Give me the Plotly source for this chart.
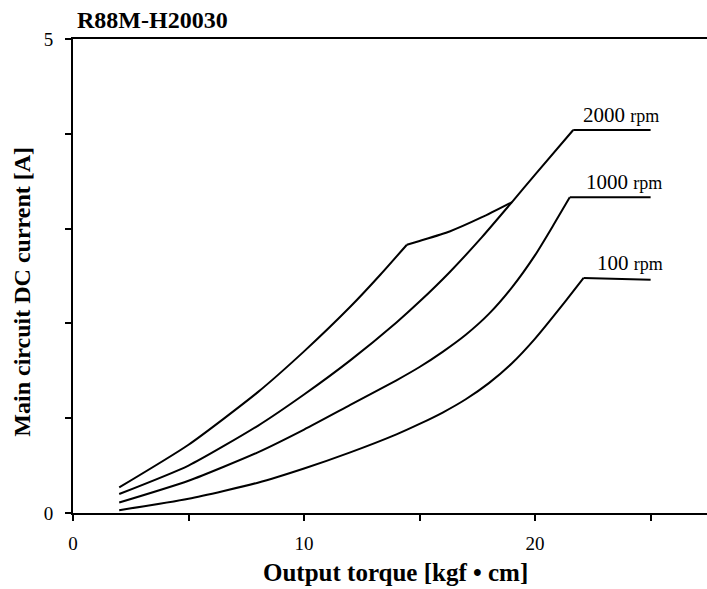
import plotly.graph_objects as go

# Data
a_x = [2, 5, 8, 10, 12, 13.3, 14.45]
a_y = [0.27, 0.72, 1.275, 1.705, 2.175, 2.513, 2.83]
conn_x = [14.45, 15, 16.3, 17.7, 19.0]
conn_y = [2.83, 2.87, 2.97, 3.12, 3.28]
b_x = [2, 5, 8, 10, 12, 14, 15, 16.3, 17.7, 19.0, 20, 21.65, 25]
b_y = [0.20, 0.50, 0.92, 1.25, 1.61, 2.01, 2.23, 2.54, 2.91, 3.28, 3.57, 4.04, 4.04]
c_x = [2, 5, 8, 10, 12, 14, 15, 16, 17, 18, 19, 20, 20.8, 21.5, 25]
c_y = [0.11, 0.34, 0.64, 0.88, 1.14, 1.40, 1.54, 1.70, 1.88, 2.10, 2.38, 2.72, 3.04, 3.33, 3.33]
d_x = [2, 5, 8, 10, 12, 14, 15, 16, 17, 18, 19, 20, 21.3, 22.1, 25]
d_y = [0.03, 0.15, 0.32, 0.47, 0.64, 0.83, 0.94, 1.06, 1.20, 1.37, 1.58, 1.84, 2.23, 2.48, 2.46]

labels = ["2000", "1000", "100"]
label_x = [22.0, 22.1, 22.6]
label_y = [4.20, 3.49, 2.64]

x_tickvals = [0, 5, 10, 15, 20, 25]
x_ticktext = ["0", "", "10", "", "20", ""]
y_tickvals = [0, 1, 2, 3, 4, 5]
y_ticktext = ["0", "", "", "", "", "5"]

SERIF = "Liberation Serif, Times New Roman, serif"

fig = go.Figure()
line_curve = dict(color="black", width=2, shape="spline", smoothing=0.6)
line_flat = dict(color="black", width=2)

def add(xs, ys, style):
    fig.add_trace(go.Scatter(x=xs, y=ys, mode="lines", line=style,
                             showlegend=False, hoverinfo="skip"))

add(a_x, a_y, line_curve)
add(conn_x, conn_y, line_curve)
for xs, ys in [(b_x, b_y), (c_x, c_y), (d_x, d_y)]:
    add(xs[:-1], ys[:-1], line_curve)   # rising part
    add(xs[-2:], ys[-2:], line_flat)    # plateau

for t, lx, ly in zip(labels, label_x, label_y):
    fig.add_annotation(x=lx, y=ly, xref="x", yref="y",
                       text=t + ' <span style="font-size:18px">rpm</span>',
                       showarrow=False, xanchor="left", yanchor="middle",
                       font=dict(family=SERIF, size=21, color="black"))

fig.add_annotation(x=0.003, y=1.0408, xref="paper", yref="paper",
                   text="<b>R88M-H20030</b>", showarrow=False,
                   xanchor="left", yanchor="middle",
                   font=dict(family=SERIF, size=24, color="black"))
fig.add_annotation(x=-0.0797, y=0.468, xref="paper", yref="paper",
                   text="<b>Main circuit DC current [A]</b>", showarrow=False,
                   textangle=-90, xanchor="center", yanchor="middle",
                   font=dict(family=SERIF, size=24, color="black"))
fig.add_annotation(x=0.509, y=-0.125, xref="paper", yref="paper",
                   text="<b>Output torque [kgf • cm]</b>", showarrow=False,
                   xanchor="center", yanchor="middle",
                   font=dict(family=SERIF, size=25, color="black"))

fig.update_layout(
    width=707, height=589,
    margin=dict(l=73, r=0, t=39, b=76),
    paper_bgcolor="white", plot_bgcolor="white",
    xaxis=dict(range=[0, 27.44], tickvals=x_tickvals, ticktext=x_ticktext,
               showline=True, mirror=True, linecolor="black", linewidth=2,
               ticks="outside", ticklen=6, tickwidth=1.5, tickcolor="black",
               ticklabelstandoff=6,
               showgrid=False, zeroline=False,
               tickfont=dict(family=SERIF, size=19, color="black")),
    yaxis=dict(range=[0, 5], tickvals=y_tickvals, ticktext=y_ticktext,
               showline=True, linecolor="black", linewidth=2,
               ticks="outside", ticklen=6, tickwidth=1.5, tickcolor="black",
               ticklabelstandoff=8,
               showgrid=False, zeroline=False,
               tickfont=dict(family=SERIF, size=19, color="black")),
)

fig.write_html("out.html")
